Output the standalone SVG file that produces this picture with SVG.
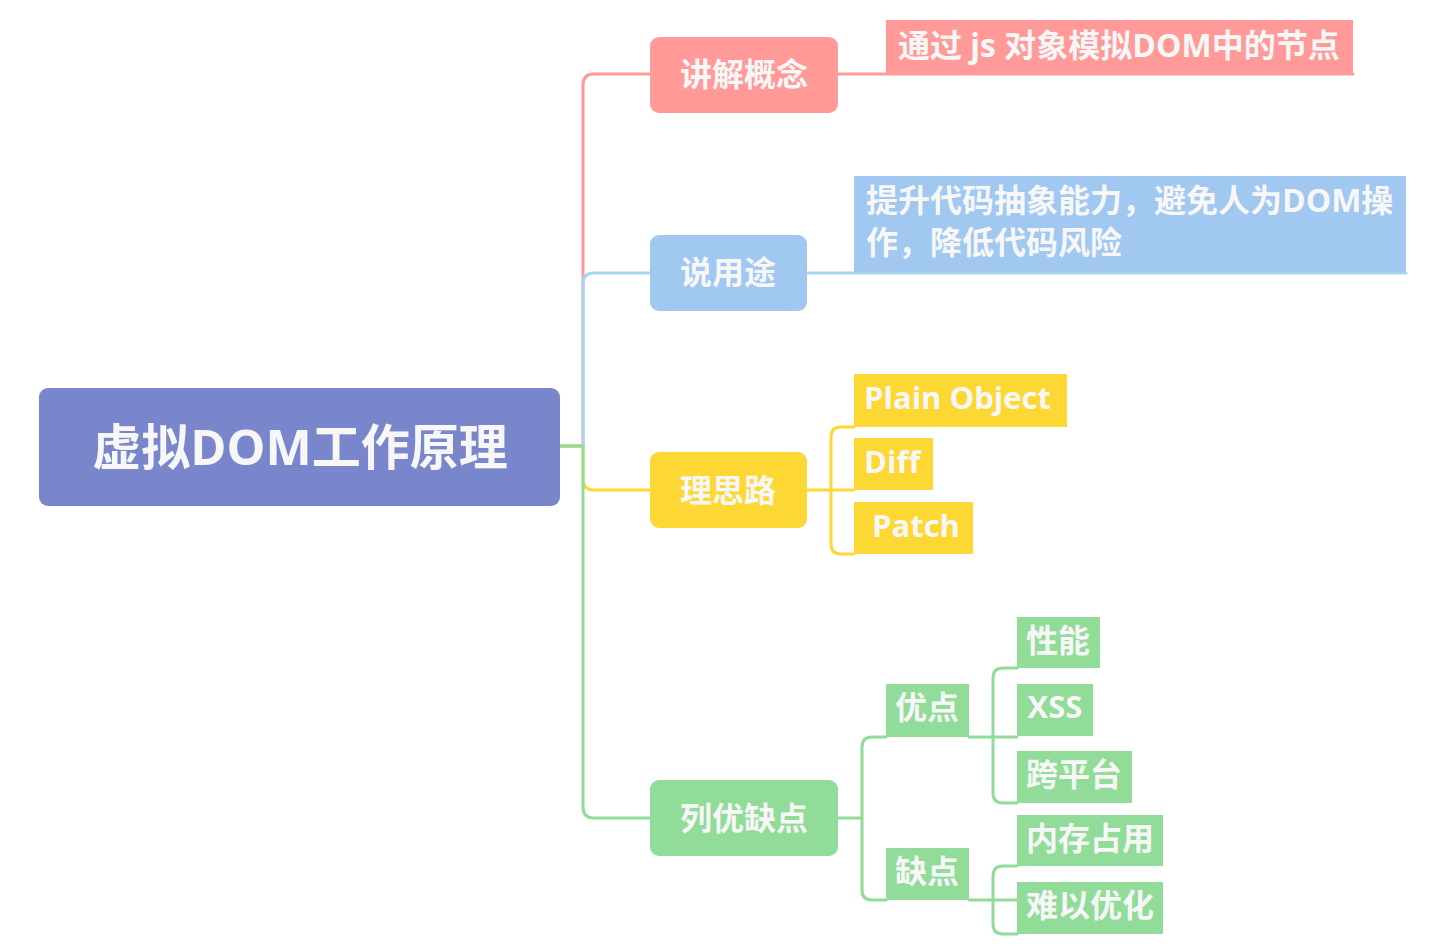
<svg xmlns="http://www.w3.org/2000/svg" width="1438" height="946" viewBox="0 0 1438 946">
  <style>
    text { font-family: "Open Sans", "Noto Sans CJK SC", sans-serif; font-weight: bold; fill: #F7F7F7; }
    .conn { fill: none; stroke-width: 3; stroke-linecap: round; }
    .red { stroke: #FF9A98; }
    .blue { stroke: #A4D8F2; }
    .yellow { stroke: #FDD835; }
    .green { stroke: #90DC98; }
    .t32 { font-size: 32px; }
    .t31 { font-size: 31px; }
    .t30 { font-size: 30px; }
    .mid { text-anchor: middle; }
  </style>
  <rect width="1438" height="946" fill="#FFFFFF"/>

  <!-- connectors -->
  <g id="connectors">
    <path class="conn red" d="M560,446 H583 V85 Q583,74 594,74 H650"/>
    <path class="conn blue" d="M560,446 H583 V284 Q583,273 594,273 H650"/>
    <path class="conn yellow" d="M560,446 H583 V479 Q583,490 594,490 H650"/>
    <path class="conn green" d="M560,446 H583 V807 Q583,818 594,818 H650"/>

    <path class="conn red" d="M838,74 H1353"/>
    <path class="conn blue" d="M807,273 H1406"/>

    <path class="conn yellow" d="M807,490 H854"/>
    <path class="conn yellow" d="M854,427 H841 Q831,427 831,437 V544 Q831,554 841,554 H854"/>

    <path class="conn green" d="M838,818 H862"/>
    <path class="conn green" d="M886,737 H872 Q862,737 862,747 V890 Q862,900 872,900 H886"/>
    <path class="conn green" d="M969,737 H1017"/>
    <path class="conn green" d="M1017,668 H1003 Q993,668 993,678 V793 Q993,803 1003,803 H1017"/>
    <path class="conn green" d="M969,900 H1017"/>
    <path class="conn green" d="M1017,866 H1003 Q993,866 993,876 V924 Q993,934 1003,934 H1017"/>
  </g>

  <!-- central topic -->
  <g id="root">
    <rect x="39" y="388" width="521" height="118" rx="9" fill="#7986CB"/>
    <text x="300" y="465" font-size="49" class="mid" fill="#FFFFFF">虚拟DOM工作原理</text>
  </g>

  <!-- branch: concept -->
  <g id="concept">
    <rect x="650" y="37" width="188" height="76" rx="9" fill="#FF9A98"/>
    <text x="744" y="86" class="t32 mid">讲解概念</text>
  </g>
  <g id="concept-detail">
    <rect x="886" y="20" width="467" height="55" fill="#FF9A98"/>
    <text x="898" y="57" class="t32">通过 js 对象模拟DOM中的节点</text>
  </g>

  <!-- branch: purpose -->
  <g id="purpose">
    <rect x="650" y="235" width="157" height="76" rx="9" fill="#A0C8F0"/>
    <text x="728" y="284" class="t32 mid">说用途</text>
  </g>
  <g id="purpose-detail">
    <rect x="854" y="176" width="552" height="96" fill="#A0C8F0"/>
    <text x="866" y="212" class="t32">提升代码抽象能力，避免人为DOM操</text>
    <text x="866" y="254" class="t32">作，降低代码风险</text>
  </g>

  <!-- branch: approach -->
  <g id="approach">
    <rect x="650" y="452" width="157" height="76" rx="9" fill="#FDD835"/>
    <text x="728" y="502" class="t32 mid">理思路</text>
  </g>
  <g id="plain-object">
    <rect x="854" y="374" width="213" height="53" fill="#FDD835"/>
    <text x="864" y="409" class="t31">Plain Object</text>
  </g>
  <g id="diff">
    <rect x="854" y="438" width="79" height="52" fill="#FDD835"/>
    <text x="864" y="473" class="t31">Diff</text>
  </g>
  <g id="patch">
    <rect x="854" y="502" width="119" height="52" fill="#FDD835"/>
    <text x="872" y="537" class="t31">Patch</text>
  </g>

  <!-- branch: pros and cons -->
  <g id="pros-cons">
    <rect x="650" y="780" width="188" height="76" rx="9" fill="#90DC98"/>
    <text x="744" y="830" class="t32 mid">列优缺点</text>
  </g>
  <g id="pros">
    <rect x="886" y="684" width="83" height="53" fill="#90DC98"/>
    <text x="927" y="719" class="t32 mid">优点</text>
  </g>
  <g id="performance">
    <rect x="1017" y="617" width="83" height="51" fill="#90DC98"/>
    <text x="1058" y="652" class="t32 mid">性能</text>
  </g>
  <g id="xss">
    <rect x="1017" y="684" width="76" height="52" fill="#90DC98"/>
    <text x="1055" y="718" class="t31 mid">XSS</text>
  </g>
  <g id="cross-platform">
    <rect x="1017" y="751" width="115" height="52" fill="#90DC98"/>
    <text x="1074" y="786" class="t32 mid">跨平台</text>
  </g>
  <g id="cons">
    <rect x="886" y="848" width="83" height="52" fill="#90DC98"/>
    <text x="927" y="883" class="t32 mid">缺点</text>
  </g>
  <g id="memory">
    <rect x="1017" y="815" width="146" height="51" fill="#90DC98"/>
    <text x="1090" y="850" class="t32 mid">内存占用</text>
  </g>
  <g id="hard-to-optimize">
    <rect x="1017" y="882" width="146" height="52" fill="#90DC98"/>
    <text x="1090" y="917" class="t32 mid">难以优化</text>
  </g>
</svg>
